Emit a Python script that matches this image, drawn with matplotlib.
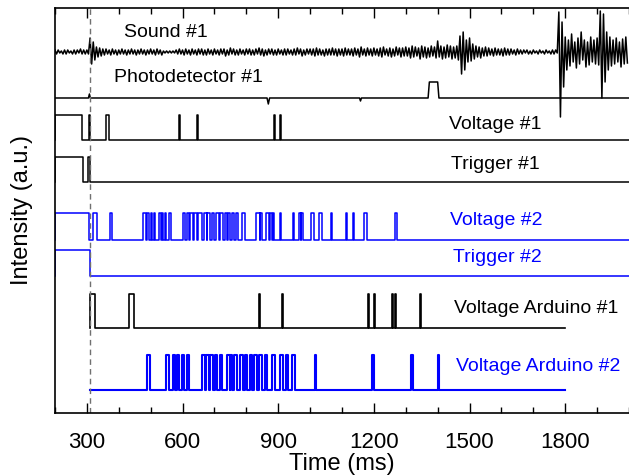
import numpy as np
import matplotlib.pyplot as plt

plt.rcParams['font.family'] = ['Liberation Sans', 'DejaVu Sans']

# sound #1: upper / lower excursion of the noise every 10 ms (a.u.)
sound_t = np.arange(200, 2000, 10)
sound_up = [2,2,1,2,2,1,2,2,3,2,
            2,14,10,5,4,3,3,2,3,2,
            2,3,2,2,3,2,2,3,2,2,
            3,2,3,2,1,1,1,1,2,3,
            2,3,2,3,2,3,3,2,3,2,
            3,2,3,3,2,4,3,2,3,2,
            3,3,2,3,4,3,2,3,3,2,
            3,2,3,3,2,3,4,3,2,3,
            3,3,4,3,2,3,3,4,3,3,
            3,4,3,3,4,3,5,3,4,3,
            4,3,4,5,3,4,3,5,4,4,
            5,4,6,5,4,6,5,4,6,5,
            11,6,5,7,6,5,6,16,20,12,
            14,8,6,5,4,5,4,3,4,3,
            3,4,3,3,2,3,2,2,2,1,
            2,1,2,1,2,1,2,2,40,30,
            15,12,18,10,14,20,12,10,15,12,
            14,41,38,20,15,12,14,10,13,15]
sound_dn = [2,1,2,2,1,2,2,1,2,2,
            2,12,8,5,4,3,2,3,2,3,
            2,2,3,2,2,3,2,2,3,2,
            2,3,2,3,1,1,1,1,2,2,
            3,2,3,2,3,2,3,3,2,3,
            2,3,2,4,3,2,3,3,2,3,
            2,3,3,2,3,4,3,2,3,3,
            2,3,3,2,3,3,2,4,3,2,
            3,4,3,3,4,3,3,3,4,3,
            4,3,3,4,3,5,3,4,3,4,
            3,4,5,3,4,5,4,3,5,4,
            4,6,5,4,7,5,6,5,4,6,
            5,7,6,5,7,6,8,22,18,10,
            9,7,5,6,4,4,3,4,3,3,
            4,3,3,2,3,2,2,1,2,2,
            1,2,1,2,1,2,2,1,65,35,
            18,14,10,16,12,8,15,13,10,12,
            13,46,30,18,14,12,10,15,12,11]

# photodetector #1
photo_t = [200, 305, 308, 311, 865, 869, 873, 1155, 1158, 1161, 1370, 1374, 1400, 1404, 2000]
photo_y = [0, 0, 4, 0, 0, -6, 0, 0, -3, 0, 0, 16, 16, 0, 0]

# digital channels: (on, off) in ms
volt1 = [(200, 284), (306, 310), (360, 370), (588, 592), (646, 650), (887, 891), (905, 909)]
trig1 = [(200, 289), (305, 309)]
volt2 = [(200, 308), (320, 331), (371, 378), (477, 486), (490, 496), (501, 505), (509, 515),
         (525, 533), (535, 540), (546, 549), (556, 563), (601, 608), (614, 619), (624, 634),
         (637, 645), (650, 661), (666, 677), (678, 687), (692, 700), (706, 713), (718, 727),
         (734, 739), (744, 749), (755, 760), (769, 773), (787, 797), (831, 842), (844, 849),
         (862, 870), (875, 881), (884, 888), (905, 909), (947, 951), (964, 970), (972, 977),
         (1003, 1011), (1029, 1036), (1064, 1069), (1112, 1116), (1135, 1139), (1169, 1179),
         (1267, 1271)]
trig2 = [(200, 310)]
ard1 = [(310, 326), (433, 448), (839, 842), (912, 914), (1182, 1184), (1200, 1202),
        (1257, 1259), (1267, 1269), (1346, 1348)]
ard2 = [(488, 498), (549, 559), (570, 577), (582, 590), (598, 605), (614, 619), (661, 671),
        (674, 682), (687, 695), (703, 708), (716, 724), (739, 748), (750, 755), (762, 771),
        (781, 790), (797, 802), (813, 818), (825, 834), (839, 849), (860, 866), (881, 891),
        (905, 915), (926, 930), (944, 954), (1015, 1020), (1195, 1200), (1317, 1322), (1400, 1404)]


def square(pulses, t0, t1):
    xs, ys = [t0], [0]
    for on, off in pulses:
        xs += [on, on, off, off]
        ys += [ys[-1], 1, 1, 0]
    xs.append(t1)
    ys.append(ys[-1])
    return np.array(xs), np.array(ys)


fig = plt.figure(figsize=(6.29, 4.76), dpi=100)
ax = fig.add_axes([0.0874, 0.1324, 0.9126, 0.8508])

# sound trace (zigzag between read envelopes)
sx = np.ravel(np.column_stack([sound_t, sound_t + 5]))
sy = np.ravel(np.column_stack([np.array(sound_up), -np.array(sound_dn)]))
ax.plot(sx, 361 + sy, color='black', lw=1.1)

ax.plot(photo_t, 315 + np.array(photo_y), color='black', lw=1.1)

traces = [(volt1, 200, 2000, 273, 25, 'black', 1.1),
          (trig1, 200, 2000, 231, 25, 'black', 1.1),
          (volt2, 200, 2000, 173, 27, 'blue', 1.1),
          (trig2, 200, 2000, 137, 26, 'blue', 1.1),
          (ard1, 310, 1800, 85, 34, 'black', 1.2),
          (ard2, 310, 1800, 23, 35, 'blue', 1.5)]
for p, t0, t1, base, amp, c, lw in traces:
    xs, ys = square(p, t0, t1)
    ax.plot(xs, base + amp * ys, color=c, lw=lw)

ax.axvline(310, color='#707070', lw=1, ls=(0, (4, 3)))

labels = [('Sound #1', 549, 380, 'black'),
          ('Photodetector #1', 618, 335, 'black'),
          ('Voltage #1', 1582, 288, 'black'),
          ('Trigger #1', 1582, 248, 'black'),
          ('Voltage #2', 1585, 192, 'blue'),
          ('Trigger #2', 1588, 155, 'blue'),
          ('Voltage Arduino #1', 1708, 104, 'black'),
          ('Voltage Arduino #2', 1714, 46, 'blue')]
for txt, x, y, c in labels:
    ax.text(x, y, txt, color=c, fontsize=14, ha='center', va='center')

ax.set_xlim(200, 2000)
ax.set_ylim(0, 405)
ax.set_xticks([300, 600, 900, 1200, 1500, 1800])
ax.set_xticks(np.arange(200, 2001, 100), minor=True)
ax.set_yticks([])
ax.tick_params(axis='x', which='both', direction='in', top=True, labelsize=16, width=1)
ax.tick_params(axis='x', which='major', length=7, pad=14)
ax.tick_params(axis='x', which='minor', length=4)
for s in ax.spines.values():
    s.set_linewidth(1.2)
ax.spines['right'].set_visible(False)
ax.set_xlabel('Time (ms)', fontsize=17, labelpad=0)
ax.set_ylabel('Intensity (a.u.)', fontsize=17, labelpad=16)

fig.savefig('out.png', dpi=100)
